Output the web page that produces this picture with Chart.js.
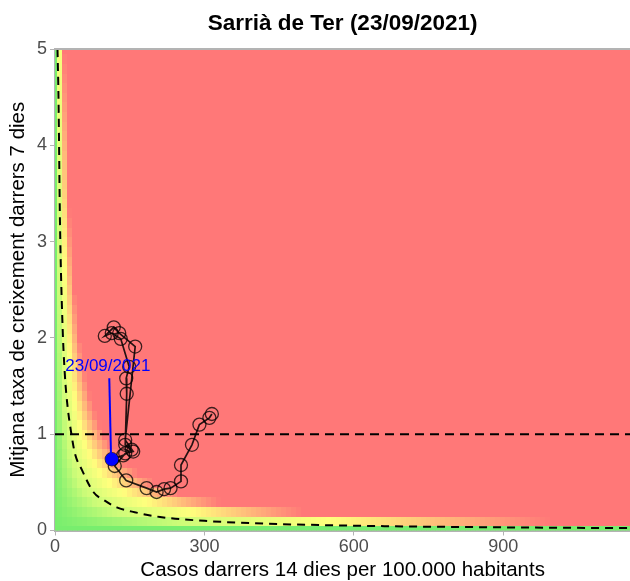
<!DOCTYPE html>
<html>
<head>
<meta charset="utf-8">
<script src="https://cdn.jsdelivr.net/npm/chart.js@4"></script>
<style>
  body { margin: 0; background: #fff; overflow: hidden; }
  canvas { display: block; }
</style>
</head>
<body>
<!-- 8px wider than the window: Chart.js keeps a small gap on the right and the reference plot runs to the edge -->
<canvas id="riskChart" width="638" height="581"></canvas>
<script>
const titleText = "Sarrià de Ter (23/09/2021)";
const xTitle = "Casos darrers 14 dies per 100.000 habitants";
const yTitle = "Mitjana taxa de creixement darrers 7 dies";

const xTicks = [0, 300, 600, 900];
const yTicks = [0, 1, 2, 3, 4, 5];

// trajectory, oldest first; last point is the labelled day
const trajX = [315, 310, 290, 275, 253, 253, 232, 219, 204, 184, 143, 120, 141, 157, 141, 161, 129, 118, 100, 114, 132, 149, 143, 144, 141, 154, 137, 114];
const trajY = [1.21, 1.17, 1.10, 0.89, 0.68, 0.51, 0.44, 0.43, 0.40, 0.44, 0.52, 0.67, 0.80, 0.82, 0.94, 1.91, 2.05, 2.11, 2.02, 2.05, 1.99, 1.70, 1.58, 1.42, 0.89, 0.84, 0.78, 0.74];

const labelText = "23/09/2021";
const labelX = 106;
const labelY = 1.71;
const leaderX = [109, 112.5];
const leaderY = [1.58, 0.77];

// dashed reference curve
const curveX = [5, 7, 10, 15, 20, 25, 33, 40, 54, 77, 100, 124, 160, 211, 300, 400, 600, 800, 1000, 1160];
const curveY = [5, 4.5, 3.2, 2.15, 1.6, 1.3, 1.0, 0.8, 0.63, 0.40, 0.31, 0.24, 0.19, 0.14, 0.10, 0.075, 0.05, 0.037, 0.029, 0.025];

const refLevel = 1;

// background colour bands by cases x growth
const riskStops = [0, 25, 55, 100];
const riskColors = [[120, 238, 110], [205, 252, 120], [255, 255, 125], [255, 120, 120]];

const xMax = 1155;
const yMax = 5;

function riskColor(p) {
  if (p >= riskStops[riskStops.length - 1]) {
    const c = riskColors[riskColors.length - 1];
    return `rgb(${c[0]},${c[1]},${c[2]})`;
  }
  for (let i = 1; i < riskStops.length; i++) {
    if (p <= riskStops[i]) {
      const t = (p - riskStops[i - 1]) / (riskStops[i] - riskStops[i - 1]);
      const a = riskColors[i - 1], b = riskColors[i];
      const c = a.map((v, k) => Math.round(v + (b[k] - v) * t));
      return `rgb(${c[0]},${c[1]},${c[2]})`;
    }
  }
}

const heatmapPlugin = {
  id: "heatmap",
  beforeDatasetsDraw(chart) {
    const { ctx, chartArea, scales } = chart;
    const xs = scales.x, ys = scales.y;
    ctx.save();
    ctx.beginPath();
    ctx.rect(chartArea.left, chartArea.top, chartArea.right - chartArea.left, chartArea.bottom - chartArea.top);
    ctx.clip();
    for (let xi = 0; xi * 10 <= xMax + 10; xi++) {
      const cx = xi * 10;
      const l = Math.floor(xs.getPixelForValue(cx - 5));
      const r = Math.ceil(xs.getPixelForValue(cx + 5));
      for (let yi = 0; yi <= 50; yi++) {
        const cy = yi / 10;
        const t = Math.floor(ys.getPixelForValue(cy + 0.05));
        const b = Math.ceil(ys.getPixelForValue(cy - 0.05));
        ctx.fillStyle = riskColor(cx * cy);
        ctx.fillRect(l, t, r - l, b - t);
      }
    }
    ctx.restore();
  },
};

const textPlugin = {
  id: "texts",
  afterDatasetsDraw(chart) {
    const { ctx, scales } = chart;
    ctx.save();
    ctx.fillStyle = "#0000ff";
    ctx.font = "17px 'Liberation Sans', Arial, sans-serif";
    ctx.textAlign = "center";
    ctx.textBaseline = "middle";
    ctx.fillText(labelText, scales.x.getPixelForValue(labelX), scales.y.getPixelForValue(labelY));
    ctx.restore();
  },
  afterDraw(chart) {
    const { ctx, chartArea } = chart;
    ctx.save();
    ctx.strokeStyle = "#b3b3b3";
    ctx.lineWidth = 2;
    ctx.beginPath();
    ctx.moveTo(chartArea.left, chartArea.top);
    ctx.lineTo(chartArea.right, chartArea.top);
    ctx.stroke();
    ctx.fillStyle = "#000";
    ctx.font = "bold 22.5px 'Liberation Sans', Arial, sans-serif";
    ctx.textAlign = "center";
    ctx.textBaseline = "middle";
    ctx.fillText(titleText, (chartArea.left + chartArea.right) / 2, 24);
    ctx.restore();
  },
};

const tickFont = { family: "'Liberation Sans', Arial, sans-serif", size: 18 };
const titleFont = { family: "'Liberation Sans', Arial, sans-serif", size: 20.5 };

const ctx = document.getElementById("riskChart").getContext("2d");

new Chart(ctx, {
  type: "scatter",
  data: {
    datasets: [
      {
        label: "blue point",
        data: [{ x: trajX[trajX.length - 1], y: trajY[trajY.length - 1] }],
        pointRadius: 6.5,
        pointBackgroundColor: "#0000ff",
        pointBorderColor: "#0000ff",
        pointBorderWidth: 0,
        order: 1,
      },
      {
        label: "leader",
        data: leaderX.map((x, i) => ({ x, y: leaderY[i] })),
        showLine: true,
        borderColor: "#0000ff",
        borderWidth: 2,
        pointRadius: 0,
        order: 2,
      },
      {
        label: "trajectory",
        data: trajX.map((x, i) => ({ x, y: trajY[i] })),
        showLine: true,
        borderColor: "rgba(0,0,0,0.85)",
        borderWidth: 1.7,
        pointRadius: 6.5,
        pointBorderWidth: 1.3,
        pointBorderColor: "rgba(0,0,0,0.75)",
        pointBackgroundColor: "rgba(0,0,0,0)",
        order: 3,
      },
      {
        label: "curve",
        data: curveX.map((x, i) => ({ x, y: curveY[i] })),
        showLine: true,
        cubicInterpolationMode: "monotone",
        borderColor: "#000",
        borderWidth: 2,
        borderDash: [8, 6],
        pointRadius: 0,
        order: 4,
      },
      {
        label: "level",
        data: [{ x: 0, y: refLevel }, { x: xMax, y: refLevel }],
        showLine: true,
        borderColor: "#000",
        borderWidth: 2,
        borderDash: [9, 6],
        pointRadius: 0,
        order: 5,
      },
    ],
  },
  options: {
    responsive: false,
    animation: false,
    events: [],
    layout: { padding: { top: 49, right: 0, left: 0, bottom: 0 } },
    scales: {
      x: {
        type: "linear",
        min: 0,
        max: xMax,
        afterBuildTicks: (scale) => { scale.ticks = xTicks.map((v) => ({ value: v })); },
        afterFit: (scale) => { scale.height = 50.5; },
        grid: { drawOnChartArea: false, drawTicks: true, tickLength: 5, color: "#b3b3b3" },
        border: { display: true, color: "#b3b3b3", width: 2 },
        ticks: { color: "#4d4d4d", font: tickFont, padding: 1, maxRotation: 0 },
        title: { display: true, text: xTitle, color: "#000", font: titleFont, padding: { top: 0, bottom: -2 } },
      },
      y: {
        type: "linear",
        min: 0,
        max: yMax,
        afterBuildTicks: (scale) => { scale.ticks = yTicks.map((v) => ({ value: v })); },
        afterFit: (scale) => { scale.width = 55; },
        grid: { drawOnChartArea: false, drawTicks: true, tickLength: 5, color: "#b3b3b3" },
        border: { display: true, color: "#b3b3b3", width: 2 },
        ticks: { color: "#4d4d4d", font: tickFont, padding: 3 },
        title: { display: true, text: yTitle, color: "#000", font: titleFont, padding: { top: 6, bottom: 0 } },
      },
    },
    plugins: {
      legend: { display: false },
      tooltip: { enabled: false },
      title: { display: false },
    },
  },
  plugins: [heatmapPlugin, textPlugin],
});
</script>
</body>
</html>
